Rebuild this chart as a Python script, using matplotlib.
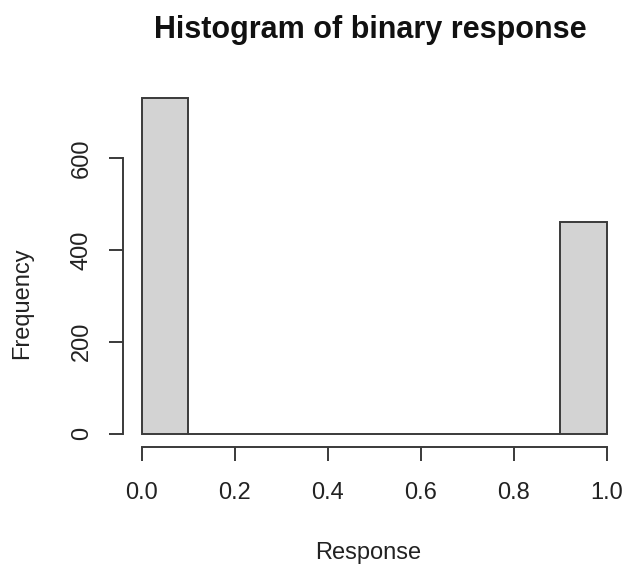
import matplotlib
matplotlib.use("Agg")
import matplotlib.pyplot as plt
import numpy as np

# histogram counts of the 0/1 response, bins of width 0.1
bin_edges = [0.0, 0.1, 0.2, 0.3, 0.4, 0.5, 0.6, 0.7, 0.8, 0.9, 1.0]
counts = [732, 0, 0, 0, 0, 0, 0, 0, 0, 462]
x_ticks = [0.0, 0.2, 0.4, 0.6, 0.8, 1.0]
y_ticks = [0, 200, 400, 600]

plt.rcParams['font.family'] = ['Liberation Sans', 'DejaVu Sans']

fig = plt.figure(figsize=(6.29, 5.67), dpi=100)
ax = fig.add_axes([0.196, 0.2116, 0.798, 0.640])

left = np.array(bin_edges[:-1])
widths = np.diff(bin_edges)
ax.bar(left, counts, width=widths, align='edge', color='#d3d3d3',
       edgecolor='#3a3a3a', linewidth=1.4)

# R-style axes: 4% padding, spines only across the tick range
pad_x = 0.04 * (bin_edges[-1] - bin_edges[0])
pad_y = 0.04 * max(counts)
ax.set_xlim(bin_edges[0] - pad_x, bin_edges[-1] + pad_x)
ax.set_ylim(-pad_y, max(counts) + pad_y)

for side in ['top', 'right']:
    ax.spines[side].set_visible(False)
ax.spines['left'].set_bounds(y_ticks[0], y_ticks[-1])
ax.spines['bottom'].set_bounds(x_ticks[0], x_ticks[-1])
for side in ['left', 'bottom']:
    ax.spines[side].set_linewidth(1.4)
    ax.spines[side].set_color('#3a3a3a')

ax.set_xticks(x_ticks)
ax.set_xticklabels(['%.1f' % t for t in x_ticks])
ax.set_yticks(y_ticks)
ax.set_yticklabels([str(t) for t in y_ticks], rotation=90, va='center')
ax.tick_params(length=10, width=1.4, color='#3a3a3a', labelsize=17,
               labelcolor='#222222', pad=12)
ax.tick_params(axis='x', pad=15)

fig.text(0.588, 0.947, 'Histogram of binary response', ha='center',
         va='center', fontsize=22, fontweight='bold', color='#111111')
fig.text(0.586, 0.025, 'Response', ha='center', va='center', fontsize=17,
         color='#222222')
fig.text(0.035, 0.466, 'Frequency', ha='center', va='center', fontsize=17,
         rotation=90, color='#222222')

fig.savefig('out.png', dpi=100)
